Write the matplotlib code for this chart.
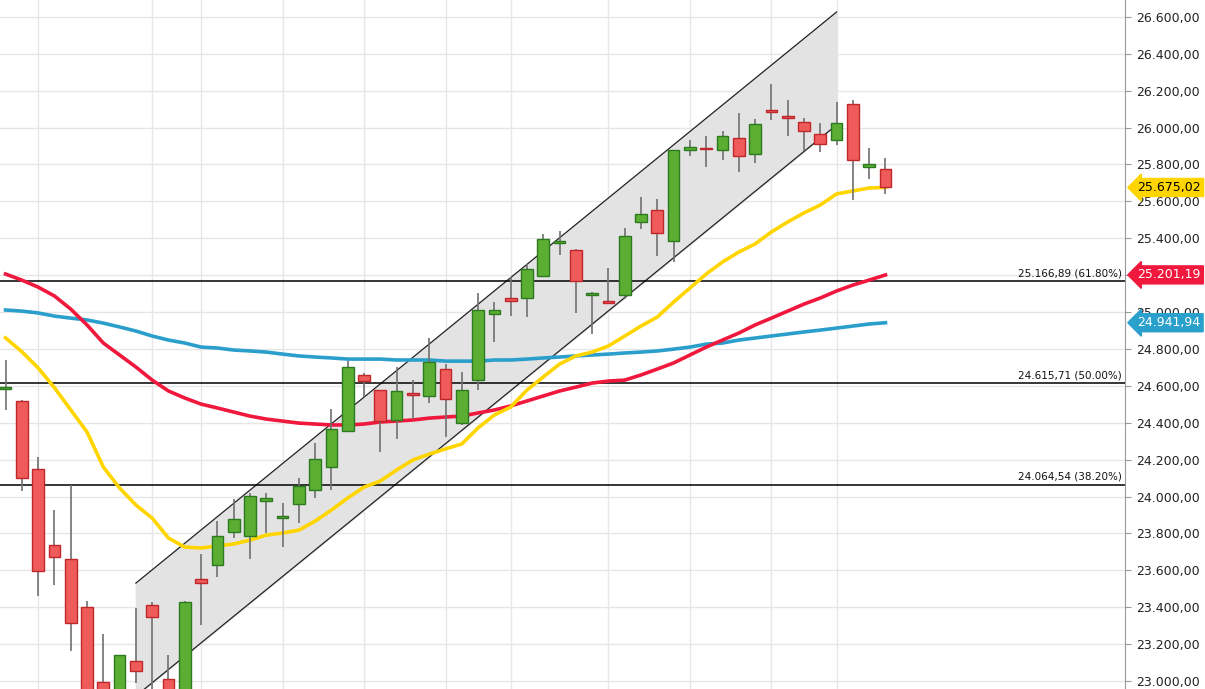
import matplotlib
matplotlib.use("Agg")
import matplotlib.pyplot as plt
from matplotlib.ticker import FixedLocator, FuncFormatter

opens = [24583,24518,24149,23737,23661,23401,22995,22897,23108,23412,23011,22924,23553,23629,23808,23786,23976,23883,23959,24035,
         24160,24355,24659,24577,24415,24561,24545,24691,24398,24631,24989,25076,25076,25195,25374,25336,25092,25060,25092,25488,
         25553,25385,25878,25889,25878,25943,25856,26095,26062,26030,25965,25932,26127,25786,25775]
closes = [24594,24100,23596,23672,23314,22897,22897,23141,23054,23347,22940,23428,23531,23786,23878,24003,23992,23894,24057,24203,
          24366,24702,24626,24409,24572,24550,24729,24528,24577,25011,25011,25060,25233,25396,25385,25168,25103,25049,25412,25531,
          25428,25878,25894,25883,25954,25846,26019,26084,26051,25981,25911,26024,25824,25802,25675]
highs = [24740,24525,24214,23927,24062,23434,23255,23141,23396,23428,23141,23435,23688,23867,23986,24019,24019,23965,24100,24290,
         24474,24734,24669,24580,24702,24631,24859,24718,24675,25103,25054,25190,25260,25423,25439,25340,25108,25238,25455,25623,
         25612,25880,25932,25954,25981,26079,26046,26236,26149,26051,26024,26138,26149,25889,25835]
lows = [24469,24030,23461,23520,23163,22789,22789,22843,22989,22897,22870,22897,23304,23564,23775,23661,23802,23726,23856,23992,
        24035,24355,24539,24241,24312,24420,24507,24322,24388,24577,24837,24978,24973,25195,25309,24995,24881,25049,25070,25450,
        25304,25271,25846,25786,25824,25759,25808,26041,25954,25873,25867,25905,25607,25721,25640]

ma_yellow = [24860,24785,24697,24590,24470,24350,24160,24046,23954,23883,23775,23726,23721,23732,23743,23764,23791,23802,23818,23867,
             23927,23992,24051,24084,24144,24198,24230,24258,24285,24372,24442,24485,24577,24648,24718,24762,24783,24816,24870,24924,
             24973,25054,25130,25206,25271,25325,25369,25434,25488,25537,25580,25640,25656,25672,25675]
ma_red = [25206,25173,25135,25087,25016,24930,24832,24767,24702,24631,24572,24534,24501,24480,24458,24436,24420,24409,24398,24393,
          24388,24388,24393,24404,24409,24415,24425,24431,24436,24453,24469,24491,24518,24545,24572,24593,24615,24626,24631,24659,
          24691,24724,24767,24810,24848,24886,24930,24967,25005,25043,25076,25114,25146,25173,25201]
ma_blue = [25011,25005,24995,24978,24967,24957,24940,24919,24897,24870,24848,24832,24810,24805,24794,24789,24783,24772,24762,24756,
           24751,24745,24745,24745,24740,24740,24740,24734,24734,24734,24740,24740,24745,24751,24756,24762,24767,24772,24778,24783,
           24789,24799,24810,24826,24832,24848,24859,24870,24881,24892,24902,24913,24924,24935,24942]

channel_x = [8, 51]
channel_upper = [23531, 26626]
channel_lower = [22919, 26014]

fib_levels = [25166.89, 24615.71, 24064.54]
fib_labels = ["25.166,89 (61.80%)", "24.615,71 (50.00%)", "24.064,54 (38.20%)"]
vgrid_idx = [2, 9, 12, 17, 22, 27, 31, 37, 42, 47, 51]
yticks = list(range(23000, 26601, 200))

last_labels = [(25675.02, "25.675,02", "#ffd500", "black"),
               (25201.19, "25.201,19", "#f0183c", "white"),
               (24941.94, "24.941,94", "#2aa0cc", "white")]

def de(v):
    s = f"{v:,.2f}"
    return s.replace(",", "X").replace(".", ",").replace("X", ".")

fig = plt.figure(figsize=(12.05, 6.89), dpi=100)
ax = fig.add_axes([0, 0, 1125/1205, 1])
ax.set_xlim(-0.34, 68.7)
ax.set_ylim(22957, 26691)

for g in vgrid_idx:
    ax.axvline(g, color="#e6e6e6", lw=1, zorder=0)
for t in yticks:
    ax.axhline(t, color="#e6e6e6", lw=1, zorder=0)

ax.fill_between(channel_x, channel_lower, channel_upper, color="#e3e3e3", zorder=1)
ax.plot(channel_x, channel_upper, color="#222", lw=0.9, zorder=2)
ax.plot(channel_x, channel_lower, color="#222", lw=0.9, zorder=2)

for lv, lb in zip(fib_levels, fib_labels):
    ax.axhline(lv, color="black", lw=1.1, zorder=3)
    ax.text(68.5, lv + 15, lb, ha="right", va="bottom", fontsize=7.5, color="#111", zorder=6)

n = len(opens)
xs = list(range(n))
ax.plot(xs, ma_blue, color="#2b9fcb", lw=2.6, zorder=3)
ax.plot(xs, ma_red, color="#f0183c", lw=2.6, zorder=3)
ax.plot(xs, ma_yellow, color="#ffd500", lw=2.6, zorder=3)

w = 0.72
for i in range(n):
    o, c, h, l = opens[i], closes[i], highs[i], lows[i]
    up = c >= o
    fc = "#5cae33" if up else "#ef5b5b"
    ec = "#2c7a1f" if up else "#c0272d"
    ax.vlines(i, l, h, color="#707070", lw=1.2, zorder=4)
    bot = min(o, c)
    hgt = max(abs(c - o), 8)
    ax.add_patch(plt.Rectangle((i - w/2, bot), w, hgt, facecolor=fc, edgecolor=ec, lw=1, zorder=5))

ax.yaxis.tick_right()
ax.yaxis.set_major_locator(FixedLocator(yticks))
ax.yaxis.set_major_formatter(FuncFormatter(lambda v, p: de(v)))
ax.tick_params(axis="y", length=4, color="#999", labelsize=9, labelcolor="#222", pad=4)
ax.set_xticks([])
for s in ["top", "bottom", "left"]:
    ax.spines[s].set_visible(False)
ax.spines["right"].set_color("#999")

for v, txt, bg, fg in last_labels:
    ax.annotate(txt, xy=(1.0, v), xycoords=("axes fraction", "data"), xytext=(9, 0),
                textcoords="offset points", ha="left", va="center", fontsize=9, color=fg, zorder=10,
                annotation_clip=False,
                bbox=dict(boxstyle="larrow,pad=0.2", fc=bg, ec=bg))

fig.savefig("out.png", dpi=100)
